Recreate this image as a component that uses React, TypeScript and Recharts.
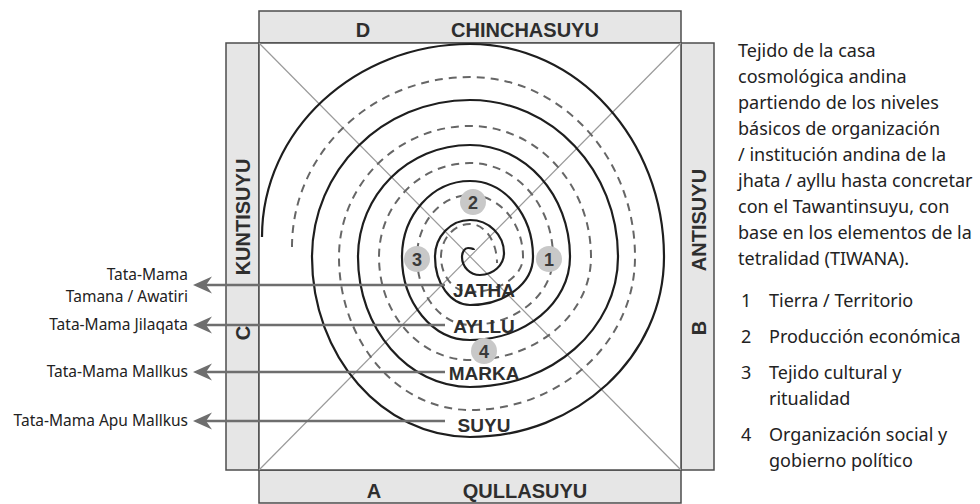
import {
  ComposedChart,
  Line,
  ReferenceArea,
  ReferenceLine,
  Scatter,
  XAxis,
  YAxis,
} from "recharts";

// spiral crossings of the vertical / horizontal axes,
// offset from the centre in px (y up), outer end first: L, T, R, B, L, T, ...
const solidSpiral: [number, number][] = [
  [-208, 20], [0, 213], [194, 0], [0, -180],
  [-158, 0], [0, 157], [148, 0], [0, -130],
  [-112, 0], [0, 112], [100, 0], [0, -83],
  [-68, 0], [0, 76], [63, 0], [0, -48],
  [-35, 0], [0, 37], [34, 4], [10, -18],
  [-8, 0], [-2, 9], [4, 7],
];

const dashedSpiral: [number, number][] = [
  [-178, 10], [0, 180], [165, 0], [0, -153],
  [-131, 0], [0, 131], [121, 0], [0, -103],
  [-91, 0], [0, 94], [83, 0], [0, -68],
  [-53, 0], [0, 62], [53, 0], [0, -35],
  [-29, 0], [0, 33], [27, -6],
];

const levels = ["JATHA", "AYLLU", "MARKA", "SUYU"];
const levelY = [-33, -69, -116, -168];
const arrowY = [-28, -68, -115, -164];
const authorities = [
  ["Tata-Mama", "Tamana / Awatiri"],
  ["Tata-Mama Jilaqata"],
  ["Tata-Mama Mallkus"],
  ["Tata-Mama Apu Mallkus"],
];

const tetralidad = ["1", "2", "3", "4"];
const tetralidadX = [79, 3, -53, 14];
const tetralidadY = [-2, 55, -2, -94];
const tetralidadText = [
  ["Tierra / Territorio"],
  ["Producción económica"],
  ["Tejido cultural y", "ritualidad"],
  ["Organización social y", "gobierno político"],
];

const suyus = ["CHINCHASUYU", "ANTISUYU", "QULLASUYU", "KUNTISUYU"];
const suyuLetters = ["D", "B", "A", "C"];

const description = [
  "Tejido de la casa",
  "cosmológica andina",
  "partiendo de los niveles",
  "básicos de organización",
  "/ institución andina de la",
  "jhata / ayllu hasta concretar",
  "con el Tawantinsuyu, con",
  "base en los elementos de la",
  "tetralidad (TIWANA).",
];

// layout of the frame (same px units as the spiral)
const HALF = 211;
const BAND = 33;
const ARROW_TIP = -277;
const ARROW_START = -25;

const suyuPos = [
  { x: 55, y: 227, rot: 0 },
  { x: 229, y: 37, rot: -90 },
  { x: 55, y: -234, rot: 0 },
  { x: -227, y: 40, rot: -90 },
];
const letterPos = [
  { x: -107, y: 227, rot: 0 },
  { x: 229, y: -71, rot: -90 },
  { x: -96, y: -234, rot: 0 },
  { x: -227, y: -76, rot: -90 },
];

const toPoints = (pts: [number, number][]) => pts.map(([x, y]) => ({ x, y }));

// joins the axis crossings with quarter-ellipse beziers:
// even points have a vertical tangent (L/R), odd points a horizontal one (T/B)
const KAPPA = 0.5523;
const quarterTurns = (context: any) => {
  let pts: [number, number][] = [];
  return {
    areaStart() {},
    areaEnd() {},
    lineStart() {
      pts = [];
    },
    point(x: number, y: number) {
      pts.push([x, y]);
    },
    lineEnd() {
      if (!pts.length) return;
      context.moveTo(pts[0][0], pts[0][1]);
      for (let i = 1; i < pts.length; i++) {
        const [x0, y0] = pts[i - 1];
        const [x1, y1] = pts[i];
        if ((i - 1) % 2 === 0) {
          context.bezierCurveTo(x0, y0 + KAPPA * (y1 - y0), x1 + KAPPA * (x0 - x1), y1, x1, y1);
        } else {
          context.bezierCurveTo(x0 + KAPPA * (x1 - x0), y0, x1, y1 + KAPPA * (y0 - y1), x1, y1);
        }
      }
    },
  };
};

const bandFont = '"Liberation Sans Narrow", "Arial Narrow", sans-serif';

const bandLabels = [
  ...suyus.map((t, i) => ({ text: t, ...suyuPos[i] })),
  ...suyuLetters.map((t, i) => ({ text: t, ...letterPos[i] })),
];

const levelData = levels.map((t, i) => ({ text: t, x: 14, y: levelY[i] }));
const markerData = tetralidad.map((t, i) => ({ text: t, x: tetralidadX[i], y: tetralidadY[i] }));
const arrowData = authorities.map((lines, i) => ({ lines, x: ARROW_TIP, y: arrowY[i] }));

const BandText = (props: any) => {
  const { cx, cy, payload } = props;
  return (
    <text
      x={cx}
      y={cy}
      textAnchor="middle"
      dominantBaseline="central"
      transform={payload.rot ? `rotate(${payload.rot} ${cx} ${cy})` : undefined}
      fontFamily={bandFont}
      fontWeight="bold"
      fontSize={20}
      fill="#2e2e2e"
    >
      {payload.text}
    </text>
  );
};

const LevelText = (props: any) => {
  const { cx, cy, payload } = props;
  return (
    <text
      x={cx}
      y={cy}
      textAnchor="middle"
      dominantBaseline="central"
      fontFamily={bandFont}
      fontWeight="bold"
      fontSize={19}
      fill="#2e2e2e"
    >
      {payload.text}
    </text>
  );
};

const Marker = (props: any) => {
  const { cx, cy, payload } = props;
  return (
    <g>
      <circle cx={cx} cy={cy} r={13} fill="#c8c8c8" />
      <text
        x={cx}
        y={cy + 1}
        textAnchor="middle"
        dominantBaseline="central"
        fontFamily={bandFont}
        fontWeight="bold"
        fontSize={18}
        fill="#3a3a3a"
      >
        {payload.text}
      </text>
    </g>
  );
};

const ArrowHead = (props: any) => {
  const { cx, cy, payload } = props;
  const lines: string[] = payload.lines;
  return (
    <g>
      <path
        d={`M${cx},${cy} L${cx + 19},${cy - 8.5} L${cx + 13},${cy} L${cx + 19},${cy + 8.5} Z`}
        fill="#6e6e6e"
      />
      {lines.map((l, i) => (
        <text
          key={l}
          x={cx - 5}
          y={lines.length > 1 ? cy - 11 + i * 21.5 : cy - 1}
          textAnchor="end"
          dominantBaseline="central"
          fontFamily='"Noto Sans", sans-serif'
          fontSize={15.5}
          fill="#222"
        >
          {l}
        </text>
      ))}
    </g>
  );
};

const frame = { fill: "#e6e6e6", fillOpacity: 1, stroke: "#4d4d4d", strokeWidth: 1.5 };

const App = () => (
  <div
    style={{
      position: "absolute",
      left: 0,
      top: 0,
      width: 980,
      height: 504,
      background: "#fff",
      fontFamily: '"Noto Sans", sans-serif',
      color: "#222",
    }}
  >
    <ComposedChart width={980} height={504} margin={{ top: 0, right: 0, bottom: 0, left: 0 }}>
      <XAxis type="number" dataKey="x" domain={[-470, 510]} hide allowDataOverflow />
      <YAxis type="number" dataKey="y" domain={[-247, 257]} hide allowDataOverflow />

      <ReferenceArea x1={-HALF} x2={HALF} y1={HALF + 3} y2={HALF + 2 + BAND} {...frame} />
      <ReferenceArea x1={-HALF} x2={HALF} y1={-HALF - 2} y2={-HALF - 2 - BAND} {...frame} />
      <ReferenceArea x1={-HALF - BAND} x2={-HALF} y1={-HALF - 2} y2={HALF + 3} {...frame} />
      <ReferenceArea x1={HALF} x2={HALF + BAND} y1={-HALF - 2} y2={HALF + 3} {...frame} />
      <ReferenceArea x1={-HALF} x2={HALF} y1={-HALF - 2} y2={HALF + 3} {...frame} fill="#fff" />

      <ReferenceLine segment={[{ x: -HALF, y: HALF + 3 }, { x: HALF, y: -HALF - 2 }]} stroke="#9a9a9a" strokeWidth={1.2} />
      <ReferenceLine segment={[{ x: HALF, y: HALF + 3 }, { x: -HALF, y: -HALF - 2 }]} stroke="#9a9a9a" strokeWidth={1.2} />

      <Line
        data={toPoints(dashedSpiral)}
        dataKey="y"
        type={quarterTurns as any}
        stroke="#666"
        strokeWidth={2}
        strokeDasharray="8 6"
        dot={false}
        activeDot={false}
        isAnimationActive={false}
      />
      <Line
        data={toPoints(solidSpiral)}
        dataKey="y"
        type={quarterTurns as any}
        stroke="#1e1e1e"
        strokeWidth={2.2}
        dot={false}
        activeDot={false}
        isAnimationActive={false}
      />

      {arrowY.map((y) => (
        <ReferenceLine
          key={y}
          segment={[{ x: ARROW_TIP + 13, y }, { x: ARROW_START, y }]}
          stroke="#6e6e6e"
          strokeWidth={2.6}
        />
      ))}

      <Scatter data={arrowData} shape={ArrowHead} isAnimationActive={false} />
      <Scatter data={markerData} shape={Marker} isAnimationActive={false} />
      <Scatter data={levelData} shape={LevelText} isAnimationActive={false} />
      <Scatter data={bandLabels} shape={BandText} isAnimationActive={false} />
    </ComposedChart>

    <div
      style={{
        position: "absolute",
        left: 738,
        top: 37,
        fontSize: 18,
        lineHeight: "26px",
        whiteSpace: "pre",
      }}
    >
      {description.join("\n")}
    </div>

    <div style={{ position: "absolute", left: 741, top: 287, fontSize: 18, lineHeight: "26px" }}>
      {tetralidad.map((n, i) => (
        <div key={n} style={{ display: "flex", marginBottom: 10 }}>
          <div style={{ width: 28 }}>{n}</div>
          <div style={{ whiteSpace: "pre" }}>{tetralidadText[i].join("\n")}</div>
        </div>
      ))}
    </div>
  </div>
);

export default App;
